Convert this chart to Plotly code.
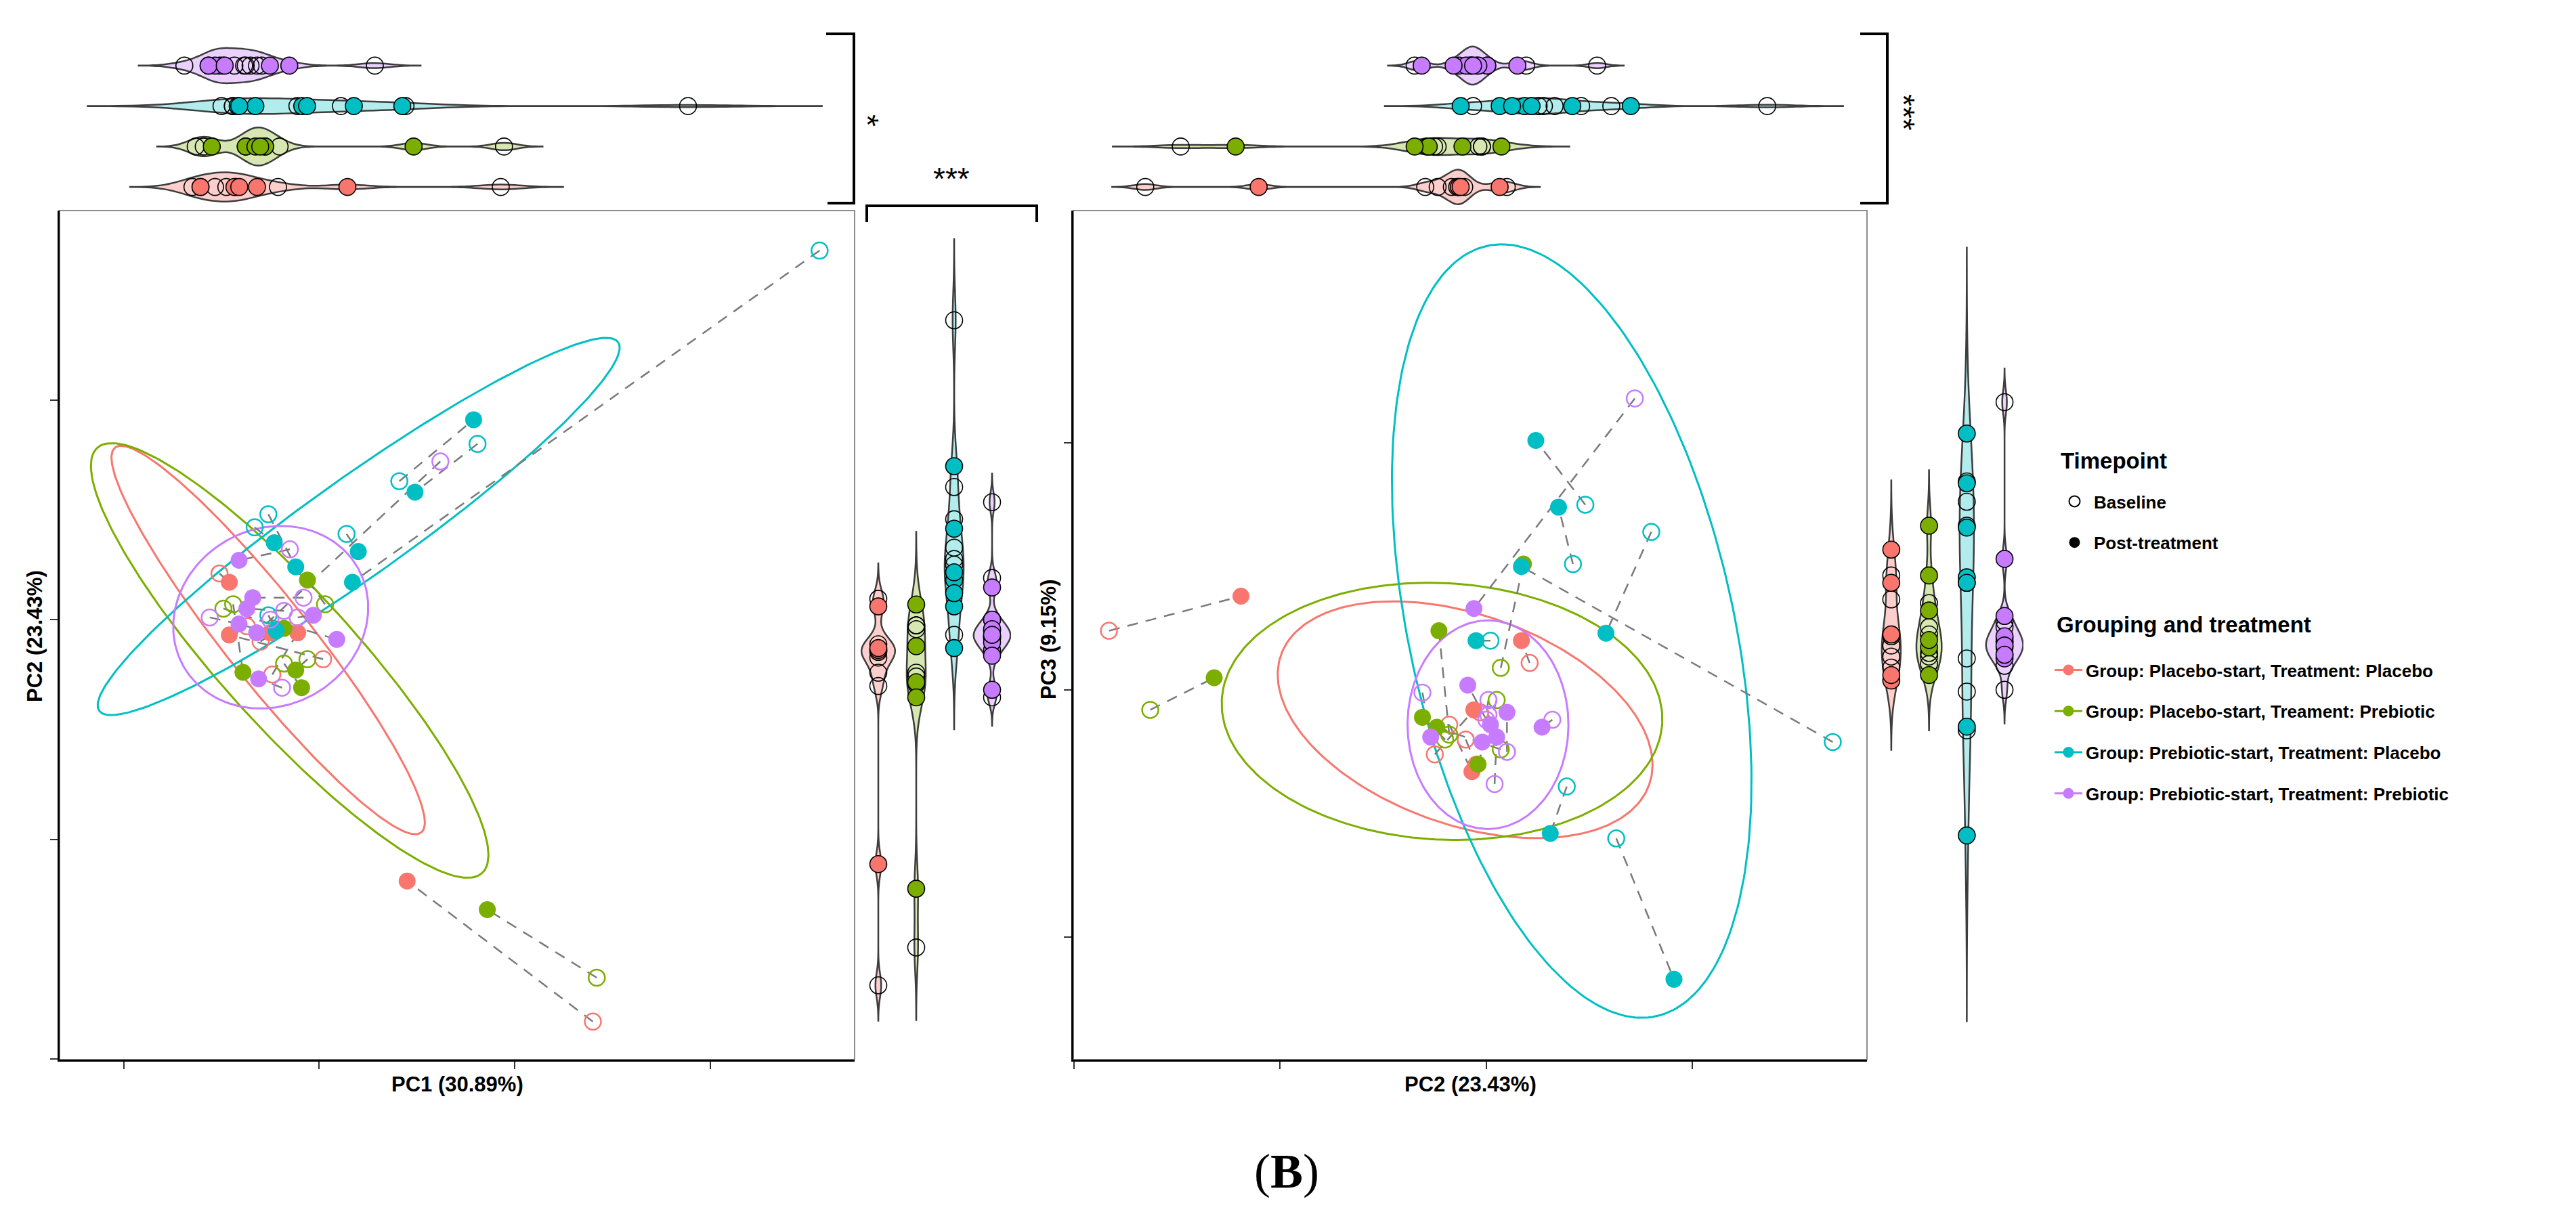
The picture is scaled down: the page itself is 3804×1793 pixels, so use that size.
import numpy as np
import plotly.graph_objects as go

W, H = 3804, 1793

# ---------------- data ----------------
group_names = [
    "Group: Placebo-start, Treatment: Placebo",
    "Group: Placebo-start, Treament: Prebiotic",
    "Group: Prebiotic-start, Treatment: Placebo",
    "Group: Prebiotic-start, Treatment: Prebiotic",
]
group_colors = ["#F8766D", "#7CAE00", "#00BFC4", "#C77CFF"]
fill_colors = ["rgba(248,118,109,0.35)", "rgba(124,174,0,0.30)",
               "rgba(0,191,196,0.30)", "rgba(199,124,255,0.35)"]
timepoints = ["Baseline", "Post-treatment"]
legend_titles = ["Timepoint", "Grouping and treatment"]

# Placebo-start, Placebo
red_base_pc1 = [0.140, -0.051, -0.037, 0.002, -0.024, -0.030]
red_base_pc2 = [-0.183, 0.021, -0.003, -0.018, -0.025, -0.010]
red_base_pc3 = [0.024, 0.011, -0.009, -0.014, -0.026, -0.020]
red_post_pc1 = [0.045, -0.046, -0.025, -0.046, -0.011, -0.022]
red_post_pc2 = [-0.119, 0.017, -0.006, -0.007, -0.006, -0.005]
red_post_pc3 = [0.038, 0.020, -0.008, -0.033, -0.008, -0.030]

# Placebo-start, Prebiotic
green_base_pc1 = [0.142, 0.003, -0.049, -0.044, -0.006, -0.018]
green_base_pc2 = [-0.163, 0.007, 0.005, 0.007, -0.018, -0.020]
green_base_pc3 = [-0.008, 0.009, -0.004, -0.024, -0.018, -0.020]
green_post_pc1 = [0.086, -0.006, -0.018, -0.039, -0.012, -0.009]
green_post_pc2 = [-0.132, 0.018, -0.004, -0.024, -0.023, -0.031]
green_post_pc3 = [0.005, 0.051, -0.030, -0.015, 0.024, -0.011]

# Prebiotic-start, Placebo
cyan_base_pc1 = [0.256, 0.081, 0.041, 0.014, -0.026, -0.033, -0.026]
cyan_base_pc2 = [0.168, 0.080, 0.063, 0.039, 0.048, 0.042, 0.002]
cyan_base_pc3 = [-0.021, 0.064, -0.060, -0.039, 0.075, 0.051, 0.020]
cyan_post_pc1 = [0.017, 0.049, 0.079, 0.020, -0.012, -0.023, -0.022]
cyan_post_pc2 = [0.017, 0.058, 0.091, 0.031, 0.024, 0.035, -0.005]
cyan_post_pc3 = [0.050, 0.023, -0.117, -0.058, 0.101, 0.074, 0.020]

# Prebiotic-start, Prebiotic
purple_base_pc1 = [0.062, -0.015, -0.008, -0.018, -0.056, -0.011, -0.019, -0.025]
purple_base_pc2 = [0.072, 0.032, 0.010, 0.004, 0.001, 0.001, -0.031, 0.000]
purple_base_pc3 = [0.118, -0.012, -0.025, -0.038, -0.004, -0.010, -0.001, -0.012]
purple_post_pc1 = [-0.032, -0.041, -0.034, -0.037, -0.041, -0.003, -0.031, 0.009]
purple_post_pc2 = [-0.006, 0.027, 0.010, 0.005, -0.002, 0.002, -0.027, -0.009]
purple_post_pc3 = [0.033, -0.015, -0.009, -0.019, -0.021, -0.014, -0.019, 0.002]

# 95% ellipses (centre + conjugate semi-diameters), PC1 vs PC2
ell1_cx = [-0.0261, -0.0151, 0.0202, -0.0248]
ell1_cy = [-0.0093, -0.0186, 0.0424, 0.0011]
ell1_ux = [0.0783, 0.0984, 0.1327, 0.0444]
ell1_uy = [-0.0876, -0.0968, 0.0839, 0.0227]
ell1_vx = [0.0171, 0.0256, -0.0146, -0.0227]
ell1_vy = [0.0120, 0.0204, 0.0182, 0.0348]
# PC2 vs PC3
ell2_cx = [-0.0103, -0.0215, 0.0414, 0.0008]
ell2_cy = [-0.0120, -0.0086, 0.0239, -0.0140]
ell2_ux = [0.0893, 0.1068, -0.0411, 0.0]
ell2_uy = [-0.0262, -0.0047, 0.1558, 0.0422]
ell2_vx = [0.0169, 0.0033, -0.0769, -0.0390]
ell2_vy = [0.0401, 0.0518, -0.0142, 0.0]

pc1_ticks = [-0.1, 0.0, 0.1, 0.2]
pc2_ticks = [-0.2, -0.1, 0.0, 0.1]
pc3_ticks = [-0.1, 0.0, 0.1]

base_pc1 = [red_base_pc1, green_base_pc1, cyan_base_pc1, purple_base_pc1]
base_pc2 = [red_base_pc2, green_base_pc2, cyan_base_pc2, purple_base_pc2]
base_pc3 = [red_base_pc3, green_base_pc3, cyan_base_pc3, purple_base_pc3]
post_pc1 = [red_post_pc1, green_post_pc1, cyan_post_pc1, purple_post_pc1]
post_pc2 = [red_post_pc2, green_post_pc2, cyan_post_pc2, purple_post_pc2]
post_pc3 = [red_post_pc3, green_post_pc3, cyan_post_pc3, purple_post_pc3]

# ---------------- helpers ----------------
FONT = "Liberation Sans, Arial, Helvetica, sans-serif"


def xd(a, b):
    return [a / W, b / W]


def yd(top, bottom):
    return [1 - bottom / H, 1 - top / H]


def pair_xy(bx, by, qx, qy):
    xs, ys = [], []
    for a, b, c, d in zip(bx, by, qx, qy):
        xs += [a, c, None]
        ys += [b, d, None]
    return xs, ys


def nrd0(v):
    v = np.asarray(v, dtype=float)
    sd = v.std(ddof=1)
    q75, q25 = np.percentile(v, [75, 25])
    lo = min(sd, (q75 - q25) / 1.34) if q75 > q25 else sd
    return 0.9 * lo * len(v) ** -0.2


fig = go.Figure()
tt = np.linspace(0, 2 * np.pi, 241)

panels = [
    ("x", "y", base_pc1, base_pc2, post_pc1, post_pc2,
     (ell1_cx, ell1_cy, ell1_ux, ell1_uy, ell1_vx, ell1_vy)),
    ("x2", "y2", base_pc2, base_pc3, post_pc2, post_pc3,
     (ell2_cx, ell2_cy, ell2_ux, ell2_uy, ell2_vx, ell2_vy)),
]

for xa, ya, bx, by, qx, qy, ell in panels:
    cx, cy, ux, uy, vx, vy = ell
    for g in range(4):
        ex = cx[g] + ux[g] * np.cos(tt) + vx[g] * np.sin(tt)
        ey = cy[g] + uy[g] * np.cos(tt) + vy[g] * np.sin(tt)
        fig.add_trace(go.Scatter(x=ex, y=ey, mode="lines", xaxis=xa, yaxis=ya,
                                 line=dict(color=group_colors[g], width=3),
                                 showlegend=False, hoverinfo="skip"))
    for g in range(4):
        lx, ly = pair_xy(bx[g], by[g], qx[g], qy[g])
        fig.add_trace(go.Scatter(x=lx, y=ly, mode="lines", xaxis=xa, yaxis=ya,
                                 line=dict(color="#7a7a7a", width=2.5, dash="16px,12px"),
                                 showlegend=False, hoverinfo="skip"))
    for g in range(4):
        fig.add_trace(go.Scatter(x=bx[g], y=by[g], mode="markers", xaxis=xa, yaxis=ya,
                                 marker=dict(symbol="circle-open", size=24, color=group_colors[g],
                                             line=dict(width=2.5)),
                                 showlegend=False, hoverinfo="skip"))
        fig.add_trace(go.Scatter(x=qx[g], y=qy[g], mode="markers", xaxis=xa, yaxis=ya,
                                 marker=dict(symbol="circle", size=25, color=group_colors[g],
                                             line=dict(width=0)),
                                 showlegend=False, hoverinfo="skip"))

# ---------------- marginal violins ----------------
violin_specs = [
    ("x3", "y3", "h", base_pc1, post_pc1, [0.72, 0.94, 0.39, 0.87]),
    ("x4", "y4", "v", base_pc2, post_pc2, [0.88, 0.50, 0.50, 0.97]),
    ("x5", "y5", "h", base_pc2, post_pc2, [0.85, 0.42, 0.40, 0.94]),
    ("x6", "y6", "v", base_pc3, post_pc3, [0.50, 0.67, 0.38, 0.98]),
]

for xa, ya, ori, bvals, qvals, widths in violin_specs:
    for g in range(4):
        vals = list(bvals[g]) + list(qvals[g])
        bw = nrd0(vals)
        span = [min(vals) - 3 * bw, max(vals) + 3 * bw]
        common = dict(orientation=ori, width=widths[g], fillcolor=fill_colors[g],
                      line=dict(color="#3d3d3d", width=2.5), points=False,
                      bandwidth=bw, spanmode="manual", span=span, scalemode="width",
                      side="both", hoverinfo="skip", showlegend=False,
                      xaxis=xa, yaxis=ya)
        if ori == "h":
            fig.add_trace(go.Violin(x=vals, y0=g + 1, **common))
        else:
            fig.add_trace(go.Violin(y=vals, x0=g + 1, **common))
    for g in range(4):
        for vals, filled in ((bvals[g], False), (qvals[g], True)):
            pos = [g + 1] * len(vals)
            mk = dict(symbol="circle", size=25,
                      color=group_colors[g] if filled else "rgba(0,0,0,0)",
                      line=dict(color="black", width=1.6))
            if ori == "h":
                fig.add_trace(go.Scatter(x=vals, y=pos, mode="markers", marker=mk,
                                         xaxis=xa, yaxis=ya, showlegend=False,
                                         hoverinfo="skip"))
            else:
                fig.add_trace(go.Scatter(x=pos, y=vals, mode="markers", marker=mk,
                                         xaxis=xa, yaxis=ya, showlegend=False,
                                         hoverinfo="skip"))

# ---------------- legend entries ----------------
fig.add_trace(go.Scatter(x=[None], y=[None], mode="markers", name=timepoints[0],
                         marker=dict(symbol="circle-open", size=16, color="black",
                                     line=dict(width=2)),
                         legend="legend", legendgroup="t0"))
fig.add_trace(go.Scatter(x=[None], y=[None], mode="markers", name=timepoints[1],
                         marker=dict(symbol="circle", size=16, color="black"),
                         legend="legend", legendgroup="t1"))
for g in range(4):
    fig.add_trace(go.Scatter(x=[None], y=[None], mode="lines+markers", name=group_names[g],
                             line=dict(color=group_colors[g], width=3),
                             marker=dict(symbol="circle", size=16, color=group_colors[g]),
                             legend="legend2", legendgroup="g%d" % g))

# ---------------- axes ----------------
main_ax = dict(showgrid=False, zeroline=False, showline=True, linecolor="black",
               linewidth=3, ticks="outside", ticklen=11, tickwidth=2, tickcolor="#333",
               showticklabels=False, tickmode="array", fixedrange=True)
hid = dict(visible=False, showgrid=False, zeroline=False, type="linear", fixedrange=True)

P1X, P2X = xd(80, 1254), xd(1577, 2749)
PY = yd(303, 1557)
TOPY = yd(59, 298)

leg_common = dict(font=dict(size=26, weight="bold", family=FONT),
                  xanchor="left", yanchor="top", tracegroupgap=24,
                  bgcolor="rgba(0,0,0,0)")

fig.update_layout(
    width=W, height=H, margin=dict(l=0, r=0, t=0, b=0),
    paper_bgcolor="white", plot_bgcolor="white",
    font=dict(family=FONT, color="black"),
    xaxis=dict(main_ax, domain=P1X, range=[-0.1328, 0.2739], tickvals=pc1_ticks, anchor="y"),
    yaxis=dict(main_ax, domain=PY, range=[-0.2003, 0.1862], tickvals=pc2_ticks, anchor="x"),
    xaxis2=dict(main_ax, domain=P2X, range=[-0.2003, 0.1846], tickvals=pc2_ticks, anchor="y2"),
    yaxis2=dict(main_ax, domain=PY, range=[-0.1495, 0.194], tickvals=pc3_ticks, anchor="x2"),
    xaxis3=dict(hid, domain=P1X, range=[-0.1333, 0.3592], anchor="y3"),
    yaxis3=dict(hid, domain=TOPY, range=[0.5, 4.5], anchor="x3"),
    xaxis4=dict(hid, domain=xd(1261, 1485), range=[0.5, 4.5], anchor="y4"),
    yaxis4=dict(hid, domain=PY, range=[-0.2222, 0.2259], anchor="x4"),
    xaxis5=dict(hid, domain=P2X, range=[-0.2236, 0.2243], anchor="y5"),
    yaxis5=dict(hid, domain=TOPY, range=[0.5, 4.5], anchor="x5"),
    xaxis6=dict(hid, domain=xd(2757, 2980), range=[0.5, 4.5], anchor="y6"),
    yaxis6=dict(hid, domain=PY, range=[-0.2386, 0.2219], anchor="x6"),
    legend=dict(leg_common, itemwidth=47, x=3027 / W, y=1 - 709 / H),
    legend2=dict(leg_common, itemwidth=41, x=3021 / W, y=1 - 958 / H),
    violingap=0, violingroupgap=0, violinmode="overlay",
)

# panel borders
for xa, ya in (("x", "y"), ("x2", "y2")):
    fig.add_shape(type="rect", xref=xa + " domain", yref=ya + " domain",
                  x0=0, x1=1, y0=0, y1=1, line=dict(color="#8c8c8c", width=2), layer="below")


def P(x, y):
    return "%.5f,%.5f" % (x / W, 1 - y / H)


brackets = [
    "M %s L %s L %s L %s" % (P(1212, 42), P(1253, 42), P(1253, 292), P(1214, 292)),
    "M %s L %s L %s L %s" % (P(1272, 320), P(1272, 296), P(1523, 296), P(1523, 320)),
    "M %s L %s L %s L %s" % (P(2739, 42), P(2779, 42), P(2779, 292), P(2739, 292)),
]
for pth in brackets:
    fig.add_shape(type="path", xref="paper", yref="paper", path=pth,
                  line=dict(color="black", width=4))

annots = [
    dict(text="*", x=1273 / W, y=1 - 170 / H, textangle=90, font=dict(size=46)),
    dict(text="***", x=1397 / W, y=1 - 256 / H, textangle=0, font=dict(size=46)),
    dict(text="***", x=2803 / W, y=1 - 158 / H, textangle=90, font=dict(size=46)),
    dict(text="<b>PC1 (30.89%)</b>", x=667 / W, y=1 - 1593 / H, font=dict(size=31)),
    dict(text="<b>PC2 (23.43%)</b>", x=2163 / W, y=1 - 1593 / H, font=dict(size=31)),
    dict(text="<b>PC2 (23.43%)</b>", x=43 / W, y=1 - 932 / H, textangle=-90,
         font=dict(size=31)),
    dict(text="<b>PC3 (9.15%)</b>", x=1540 / W, y=1 - 937 / H, textangle=-90,
         font=dict(size=31)),
    dict(text="(<b>B</b>)", x=1892 / W, y=1 - 1722 / H,
         font=dict(size=72, family="Liberation Serif, Times New Roman, serif")),
]
for a in annots:
    fig.add_annotation(xref="paper", yref="paper", showarrow=False,
                       xanchor="center", yanchor="middle", **a)

# legend titles
fig.add_annotation(xref="paper", yref="paper", showarrow=False, xanchor="left",
                   yanchor="middle", x=3033 / W, y=1 - 672 / H,
                   text="<b>%s</b>" % legend_titles[0], font=dict(size=33))
fig.add_annotation(xref="paper", yref="paper", showarrow=False, xanchor="left",
                   yanchor="middle", x=3027 / W, y=1 - 914 / H,
                   text="<b>%s</b>" % legend_titles[1], font=dict(size=33))

fig.write_html("out.html")
